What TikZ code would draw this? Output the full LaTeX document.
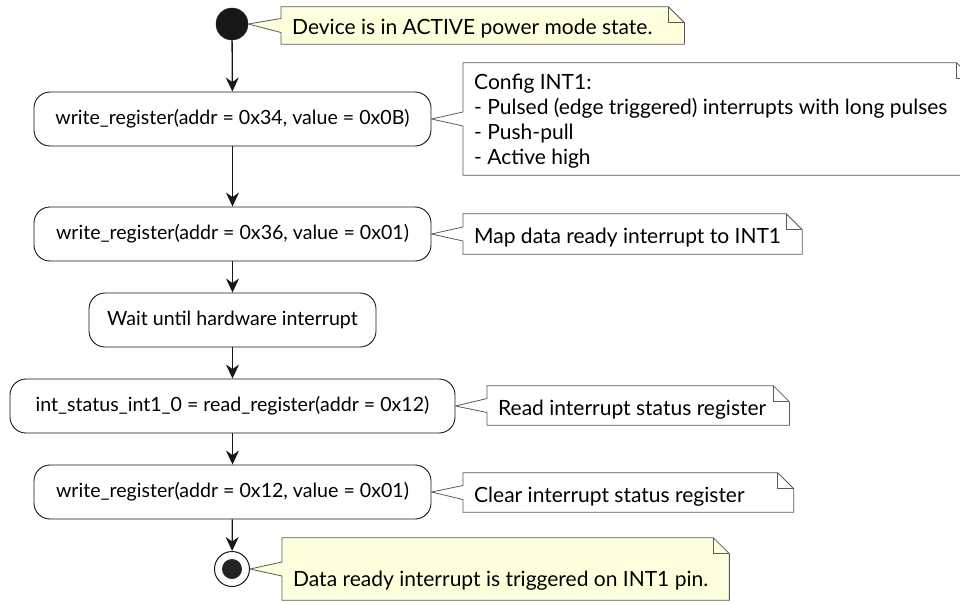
\documentclass[tikz,border=0pt]{standalone}
\usepackage{fontspec}
\setmainfont{Lato}
\usetikzlibrary{arrows.meta,backgrounds}
\definecolor{noteyellow}{HTML}{FEFFDD}
\definecolor{noteedge}{HTML}{5A5A5A}
\definecolor{lineblk}{HTML}{181818}
\newcommand\umlnote[3]{%
  \draw[noteline,fill=#3] (#1.north west) -- ([xshift=-16pt]#1.north east) -- ([yshift=-16pt]#1.north east) -- (#1.south east) -- (#1.south west) -- ([yshift=-7pt]#1.west) -- (#2) -- ([yshift=7pt]#1.west) -- cycle;
  \draw[noteline] ([xshift=-16pt]#1.north east) |- ([yshift=-16pt]#1.north east);
}
\begin{document}
\begin{tikzpicture}[x=1pt,y=-1pt,
  txt/.style={font=\fontsize{19.6}{25}\selectfont},
  ntxt/.style={font=\fontsize{21}{25}\selectfont},
  act/.style={txt,draw=lineblk,line width=0.9pt,rounded corners=16pt,fill=white,minimum height=54pt,inner sep=0pt},
  note/.style={ntxt,anchor=west,align=left,inner xsep=11pt,inner ysep=0pt,text depth=0pt},
  oneline/.style={text height=19pt},
  noteline/.style={draw=noteedge,line width=0.8pt},
  flow/.style={draw=lineblk,line width=1.3pt,-{Stealth[length=14pt,width=13pt,inset=4.5pt]}},
  startnode/.style={circle,fill=lineblk,draw=lineblk,minimum size=32pt,inner sep=0pt},
  endnode/.style={circle,draw=lineblk,line width=1pt,fill=white,minimum size=35pt,inner sep=0pt,
    path picture={\fill[lineblk!95] (path picture bounding box.center) circle[radius=10pt];}}
]
\useasboundingbox (0,0) rectangle (960,602);

\node[startnode] (start) at (232,24) {};
\node[act,minimum width=397pt] (b1) at (232.5,119) {write\_register(addr = 0x34, value = 0x0B)};
\node[act,minimum width=397pt] (b2) at (232.5,234) {write\_register(addr = 0x36, value = 0x01)};
\node[act,minimum width=287pt] (b3) at (232.5,320) {Wait until hardware interrupt};
\node[act,minimum width=445pt] (b4) at (232.5,406) {int\_status\_int1\_0 = read\_register(addr = 0x12)};
\node[act,minimum width=397pt] (b5) at (232.5,492) {write\_register(addr = 0x12, value = 0x01)};
\node[endnode] (stop) at (232,569) {};

\node[note,oneline,minimum height=37pt] (n1) at (281,25.5) {Device is in ACTIVE power mode state.\hspace*{21pt}};
\node[note,minimum height=112pt] (n2) at (463,119) {Config INT1:\\- Pulsed (edge triggered) interrupts with long pulses\mbox{\hspace{14pt}}\\- Push-pull\\- Active high};
\node[note,oneline,minimum height=40pt] (n3) at (463,234) {Map data ready interrupt to INT1\hspace*{10pt}};
\node[note,oneline,minimum height=39pt] (n4) at (487,405.5) {Read interrupt status register\hspace*{12pt}};
\node[note,oneline,minimum height=39pt] (n5) at (463,492.5) {Clear interrupt status register\hspace*{38pt}};
\node[note,text height=34pt,minimum height=62pt] (n6) at (282,569) {Data ready interrupt is triggered on INT1 pin.\hspace*{10pt}};

\begin{scope}[on background layer]
\fill[white] (0,0) rectangle (960,602);
\umlnote{n1}{start.east}{noteyellow}
\umlnote{n2}{b1.east}{white}
\umlnote{n3}{b2.east}{white}
\umlnote{n4}{b4.east}{white}
\umlnote{n5}{b5.east}{white}
\umlnote{n6}{stop.east}{noteyellow}
\end{scope}

\draw[flow] (start) -- (b1);
\draw[flow] (b1) -- (b2);
\draw[flow] (b2) -- (b3);
\draw[flow] (b3) -- (b4);
\draw[flow] (b4) -- (b5);
\draw[flow] (b5) -- (stop);
\end{tikzpicture}
\end{document}
